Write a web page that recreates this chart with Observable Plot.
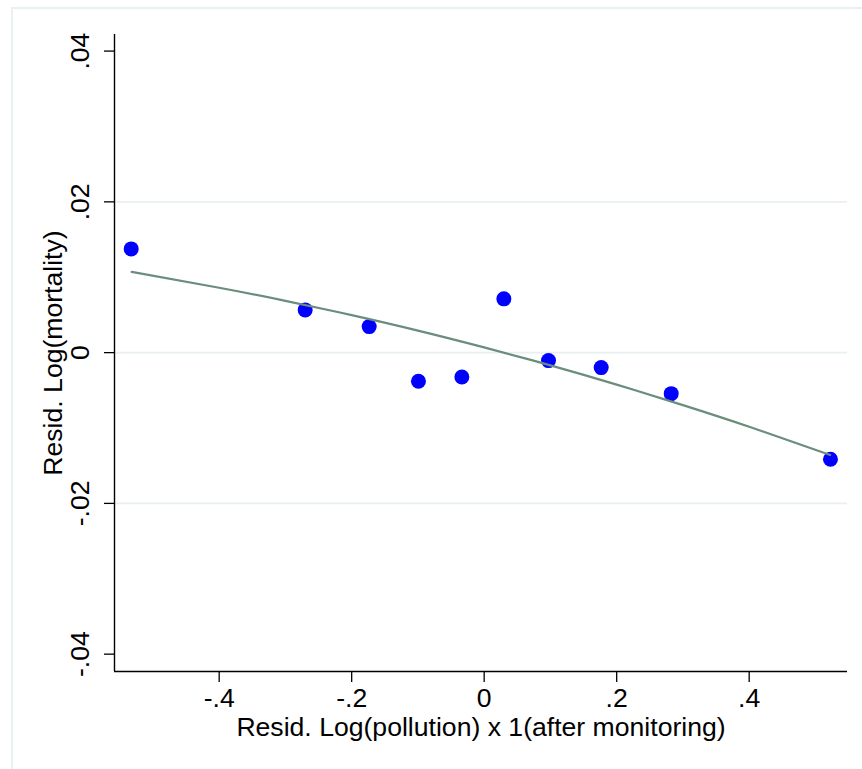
<!DOCTYPE html>
<html>
<head>
<meta charset="utf-8">
<script src="https://cdn.jsdelivr.net/npm/d3@7"></script>
<script src="https://cdn.jsdelivr.net/npm/@observablehq/plot@0.6"></script>
<style>
  html, body { margin: 0; padding: 0; background: #ffffff; }
  #wrap { position: relative; width: 862px; height: 769px; overflow: hidden; }
  #border { position: absolute; left: 11px; top: 7px; width: 1000px; height: 1000px;
            border: 2px solid #e9f0f2; box-sizing: border-box; }
  #chart { position: absolute; left: 0; top: 0; }
</style>
</head>
<body>
<div id="wrap"><div id="border"></div><div id="chart"></div></div>
<script>
// Binned scatter points
const binX = [-0.5328, -0.2702, -0.1736, -0.0992, -0.0337, 0.0297, 0.0971, 0.1766, 0.2823, 0.5227];
const binY = [0.01376, 0.00567, 0.00345, -0.0038, -0.00323, 0.00713, -0.00106, -0.00199, -0.00544, -0.01415];

// Fitted curve
const fitX = [-0.532, -0.4, -0.3, -0.2, -0.1, 0, 0.1, 0.2, 0.3, 0.4, 0.5223];
const fitY = [0.01071, 0.0086, 0.00687, 0.00497, 0.00292, 0.00069, -0.00169, -0.00424, -0.00696, -0.00983, -0.01358];

// Ticks and grid
const xTicks = [-0.4, -0.2, 0, 0.2, 0.4];
const yTicks = [-0.04, -0.02, 0, 0.02, 0.04];
const yGrid = [-0.02, 0, 0.02];

const xLabel = "Resid. Log(pollution) x 1(after monitoring)";
const yLabel = "Resid. Log(mortality)";

const xDomain = [-0.558, 0.5484];
const yDomain = [-0.0423, 0.0422];

const points = binX.map((x, i) => ({x, y: binY[i]}));
const fit = fitX.map((x, i) => ({x, y: fitY[i]}));
const fmt = d => d === 0 ? "0" : String(d).replace("0.", ".");

const FONT = "'Liberation Sans', Arial, Helvetica, sans-serif";
const FS = 26.6;

const chart = Plot.plot({
  width: 862,
  height: 769,
  marginLeft: 114,
  marginRight: 15,
  marginTop: 34,
  marginBottom: 98,
  style: {fontFamily: FONT, fontSize: FS + "px", background: "transparent", color: "#000"},
  x: {domain: xDomain},
  y: {domain: yDomain},
  marks: [
    Plot.ruleY(yGrid, {stroke: "#e9f0f2", strokeWidth: 1.6}),
    Plot.ruleX([xDomain[0]], {stroke: "#000", strokeWidth: 1.4}),
    Plot.ruleY([yDomain[0]], {stroke: "#000", strokeWidth: 1.4}),
    Plot.axisX({ticks: xTicks, tickFormat: fmt, tickSize: 11, tickPadding: 6, fontSize: FS, label: null, stroke: "#000", strokeWidth: 1.3}),
    Plot.axisY({ticks: yTicks, tickFormat: () => "", tickSize: 10, label: null, stroke: "#000", strokeWidth: 1.3}),
    Plot.text(yTicks, {y: d => d, text: fmt, frameAnchor: "left", rotate: -90, textAnchor: "middle", lineAnchor: "middle", dx: -34, fontSize: FS, fill: "#000"}),
    Plot.text([xLabel], {frameAnchor: "bottom", textAnchor: "middle", lineAnchor: "middle", dy: 56, fontSize: FS, fill: "#000"}),
    Plot.text([yLabel], {frameAnchor: "left", rotate: -90, textAnchor: "middle", lineAnchor: "middle", dx: -61, fontSize: FS, fill: "#000"}),
    Plot.dot(points, {x: "x", y: "y", r: 7.5, fill: "#0000ff", stroke: "none"}),
    Plot.line(fit, {x: "x", y: "y", stroke: "#6a8d7c", strokeWidth: 2.2, curve: "natural"})
  ]
});
document.getElementById("chart").appendChild(chart);
</script>
</body>
</html>
